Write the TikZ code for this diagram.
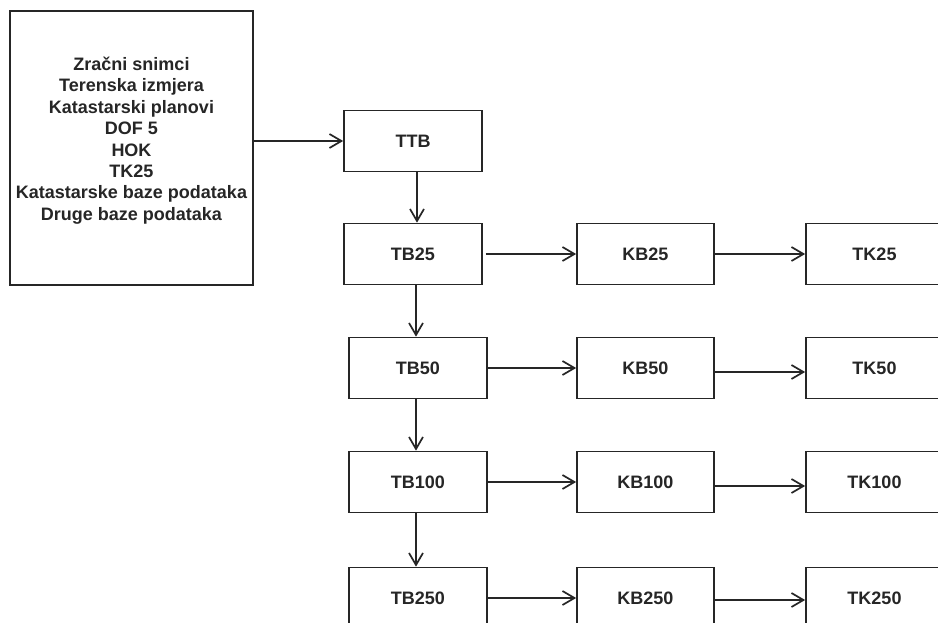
\documentclass[tikz,border=0pt]{standalone}
\usepackage{fontspec}
\setmainfont{Liberation Sans}
\usetikzlibrary{arrows.meta}
\begin{document}
\begin{tikzpicture}[x=1pt,y=-1pt,
  lbl/.style={font=\bfseries\fontsize{18}{21.4}\selectfont, text=black!85},
  box/.style={draw=black!85, line width=1.7pt, minimum width=138pt, minimum height=61pt, inner sep=0pt, lbl},
  arr/.style={draw=black!85, line width=1.7pt, -{Straight Barb[length=12pt,width=14pt,line width=1.7pt]}}]
\useasboundingbox (0,0) rectangle (938,623);
\fill[white] (0,0) rectangle (938,623);
\clip (0,0) rectangle (938,623);
% source box
\node[box, minimum width=243pt, minimum height=274pt] (src) at (131.5,148) {};
\node[lbl, align=center, inner sep=0pt] (srctext) at (131.5,140.5) {Zračni snimci\\Terenska izmjera\\Katastarski planovi\\DOF 5\\HOK\\TK25\\Katastarske baze podataka\\Druge baze podataka};
% left column
\node[box] (ttb) at (413,141) {TTB};
\node[box] (tb25) at (413,254) {TB25};
\node[box] (tb50) at (418,368) {TB50};
\node[box] (tb100) at (418,482) {TB100};
\node[box] (tb250) at (418,598) {TB250};
% middle column
\node[box, minimum width=137pt] (kb25) at (645.5,254) {KB25};
\node[box, minimum width=137pt] (kb50) at (645.5,368) {KB50};
\node[box, minimum width=137pt] (kb100) at (645.5,482) {KB100};
\node[box, minimum width=137pt] (kb250) at (645.5,598) {KB250};
% right column
\node[box, minimum width=137pt] (tk25) at (874.5,254) {TK25};
\node[box, minimum width=137pt] (tk50) at (874.5,368) {TK50};
\node[box, minimum width=137pt] (tk100) at (874.5,482) {TK100};
\node[box, minimum width=137pt] (tk250) at (874.5,598) {TK250};
% connectors
\draw[arr] (src.east |- ttb.west) -- (ttb.west);
\draw[arr] ([xshift=4pt]ttb.south) -- ([xshift=4pt]tb25.north);
\draw[arr] ([xshift=-2pt]tb50.north |- tb25.south) -- ([xshift=-2pt]tb50.north);
\draw[arr] ([xshift=-2pt]tb50.south) -- ([xshift=-2pt]tb100.north);
\draw[arr] ([xshift=-2pt]tb100.south) -- ([xshift=-2pt]tb250.north);
\draw[arr, shorten <=3pt] (tb25.east |- kb25.west) -- (kb25.west);
\draw[arr] (tb50.east) -- (kb50.west);
\draw[arr] (tb100.east) -- (kb100.west);
\draw[arr] (tb250.east) -- (kb250.west);
\draw[arr] (kb25.east) -- (tk25.west);
\draw[arr] ([yshift=-4pt]kb50.east) -- ([yshift=-4pt]tk50.west);
\draw[arr] ([yshift=-4pt]kb100.east) -- ([yshift=-4pt]tk100.west);
\draw[arr] ([yshift=-2pt]kb250.east) -- ([yshift=-2pt]tk250.west);
\end{tikzpicture}
\end{document}
